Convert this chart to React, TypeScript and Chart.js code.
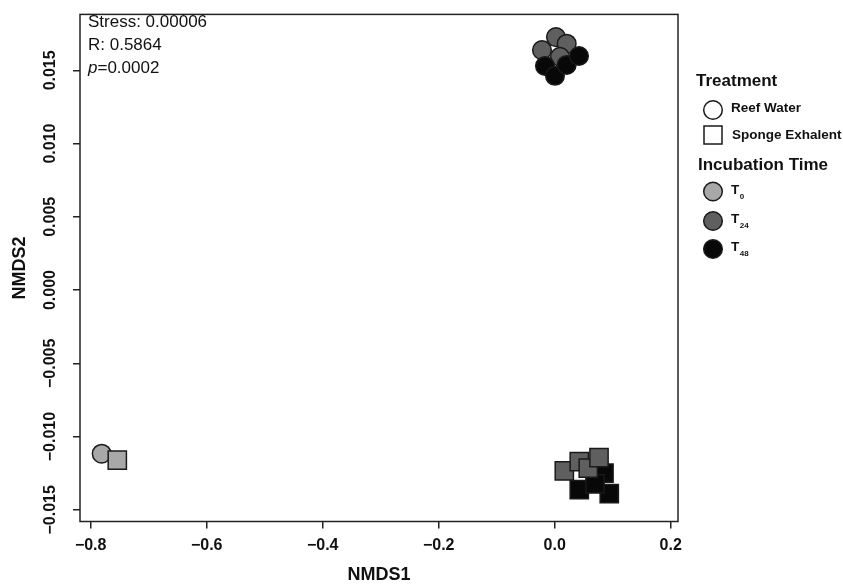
import React, { useEffect, useRef } from "react";
import { Chart, registerables } from "chart.js";

Chart.register(...registerables);

// ---- data ----
const t0ReefX = [-0.781];
const t0ReefY = [-0.01117];
const t0SpongeX = [-0.7541];
const t0SpongeY = [-0.01161];

const t24ReefX = [0.0022, 0.0207, -0.0219, 0.0091];
const t24ReefY = [0.01727, 0.01682, 0.01638, 0.01593];
const t48ReefX = [-0.0167, 0.0005, 0.0207, 0.0419];
const t48ReefY = [0.0153, 0.01463, 0.01537, 0.01598];

const t24SpongeX = [0.0166, 0.0424, 0.0579, 0.0764];
const t24SpongeY = [-0.01234, -0.01171, -0.01215, -0.01144];
const t48SpongeX = [0.0424, 0.085, 0.0941, 0.0695];
const t48SpongeY = [-0.01363, -0.01249, -0.0139, -0.01323];

const xTicks = [-0.8, -0.6, -0.4, -0.2, 0.0, 0.2];
const xTickLabels = ["\u22120.8", "\u22120.6", "\u22120.4", "\u22120.2", "0.0", "0.2"];
const yTicks = [-0.015, -0.01, -0.005, 0.0, 0.005, 0.01, 0.015];
const yTickLabels = ["\u22120.015", "\u22120.010", "\u22120.005", "0.000", "0.005", "0.010", "0.015"];

const statLines = ["Stress: 0.00006", "R: 0.5864", "=0.0002"];
const treatmentLabels = ["Reef Water", "Sponge Exhalent"];
const timeSubs = ["0", "24", "48"];

const C_T0 = "#a8a8a8";
const C_T24 = "#5f5f5f";
const C_T48 = "#080808";
const EDGE = "#1a1a1a";
const FONT = "'Liberation Sans', Arial, Helvetica, sans-serif";

const pts = (xs: number[], ys: number[]) => xs.map((x, i) => ({ x, y: ys[i] }));

export default function App() {
  const ref = useRef<HTMLCanvasElement | null>(null);

  useEffect(() => {
    if (!ref.current) return;

    const decor = {
      id: "decor",
      afterDraw(chart: any) {
        const ctx = chart.ctx as CanvasRenderingContext2D;
        const a = chart.chartArea;
        const xs = chart.scales.x;
        const ys = chart.scales.y;
        ctx.save();
        // frame
        ctx.strokeStyle = "#222";
        ctx.lineWidth = 1.5;
        ctx.strokeRect(a.left, a.top, a.right - a.left, a.bottom - a.top);

        ctx.fillStyle = "#111";
        // x tick labels
        ctx.font = `bold 16px ${FONT}`;
        ctx.textAlign = "center";
        ctx.textBaseline = "middle";
        xTicks.forEach((v, i) => {
          ctx.fillText(xTickLabels[i], xs.getPixelForValue(v), 546);
        });
        // y tick labels (rotated)
        yTicks.forEach((v, i) => {
          const py = ys.getPixelForValue(v);
          ctx.save();
          ctx.translate(51, py);
          ctx.rotate(-Math.PI / 2);
          ctx.fillText(yTickLabels[i], 0, 0);
          ctx.restore();
        });
        // axis titles
        ctx.font = `bold 18px ${FONT}`;
        ctx.fillText("NMDS1", (a.left + a.right) / 2, 575);
        ctx.save();
        ctx.translate(20, (a.top + a.bottom) / 2);
        ctx.rotate(-Math.PI / 2);
        ctx.fillText("NMDS2", 0, 0);
        ctx.restore();

        // stats text
        ctx.textAlign = "left";
        ctx.font = `17px ${FONT}`;
        ctx.fillText(statLines[0], 88, 22);
        ctx.fillText(statLines[1], 88, 45);
        ctx.font = `italic 17px ${FONT}`;
        ctx.fillText("p", 88, 68);
        const pw = ctx.measureText("p").width;
        ctx.font = `17px ${FONT}`;
        ctx.fillText(statLines[2], 88 + pw, 68);

        // legend
        ctx.font = `bold 17px ${FONT}`;
        ctx.fillText("Treatment", 696, 81);
        ctx.fillText("Incubation Time", 698, 165);

        ctx.lineWidth = 1.5;
        ctx.strokeStyle = EDGE;
        // open circle
        ctx.beginPath();
        ctx.arc(713, 110, 9.3, 0, Math.PI * 2);
        ctx.fillStyle = "#fff";
        ctx.fill();
        ctx.stroke();
        // open square
        ctx.fillRect(704, 126, 18, 18);
        ctx.strokeRect(704, 126, 18, 18);

        ctx.fillStyle = "#111";
        ctx.font = `bold 13.5px ${FONT}`;
        ctx.fillText(treatmentLabels[0], 731, 108);
        ctx.fillText(treatmentLabels[1], 732, 135);

        const tcols = [C_T0, C_T24, C_T48];
        const tys = [191.5, 221, 249];
        tcols.forEach((c, i) => {
          ctx.beginPath();
          ctx.arc(713, tys[i], 9.3, 0, Math.PI * 2);
          ctx.fillStyle = c;
          ctx.fill();
          ctx.stroke();
          ctx.fillStyle = "#111";
          ctx.font = `bold 13.5px ${FONT}`;
          ctx.fillText("T", 731, tys[i] - 1.5);
          const tw = ctx.measureText("T").width;
          ctx.font = `bold 8px ${FONT}`;
          ctx.fillText(timeSubs[i], 731 + tw + 0.5, tys[i] + 5);
        });
        ctx.restore();
      },
    };

    const base = { borderColor: EDGE, borderWidth: 1.5 };
    const chart = new Chart(ref.current, {
      type: "scatter",
      data: {
        datasets: [
          { ...base, label: "T0 reef", data: pts(t0ReefX, t0ReefY), backgroundColor: C_T0, pointStyle: "circle", pointRadius: 9.3, order: 3 },
          { ...base, label: "T0 sponge", data: pts(t0SpongeX, t0SpongeY), backgroundColor: C_T0, pointStyle: "rect", pointRadius: 12.9, order: 2 },
          { ...base, label: "T24 reef", data: pts(t24ReefX, t24ReefY), backgroundColor: C_T24, pointStyle: "circle", pointRadius: 9.3, order: 5 },
          { ...base, label: "T48 reef", data: pts(t48ReefX, t48ReefY), backgroundColor: C_T48, pointStyle: "circle", pointRadius: 9.3, order: 4 },
          { ...base, label: "T48 sponge", data: pts(t48SpongeX, t48SpongeY), backgroundColor: C_T48, pointStyle: "rect", pointRadius: 12.9, order: 7 },
          { ...base, label: "T24 sponge", data: pts(t24SpongeX, t24SpongeY), backgroundColor: C_T24, pointStyle: "rect", pointRadius: 12.9, order: 6 },
        ],
      },
      options: {
        responsive: false,
        animation: false,
        events: [],
        layout: { padding: { left: 0, top: 7, right: 165, bottom: 0 } },
        plugins: { legend: { display: false }, tooltip: { enabled: false } },
        scales: {
          x: {
            type: "linear",
            min: -0.8184,
            max: 0.2126,
            afterBuildTicks: (s: any) => { s.ticks = xTicks.map((v) => ({ value: v })); },
            afterFit: (s: any) => { s.height = 65.5; },
            ticks: { display: false },
            grid: { drawOnChartArea: false, drawTicks: true, tickLength: 7, color: "#222", lineWidth: 1.5 },
            border: { display: false },
          },
          y: {
            type: "linear",
            min: -0.0158,
            max: 0.01882,
            afterBuildTicks: (s: any) => { s.ticks = yTicks.map((v) => ({ value: v })); },
            afterFit: (s: any) => { s.width = 80; },
            ticks: { display: false },
            grid: { drawOnChartArea: false, drawTicks: true, tickLength: 7, color: "#222", lineWidth: 1.5 },
            border: { display: false },
          },
        },
      },
      plugins: [decor],
    } as any);
    return () => chart.destroy();
  }, []);

  return (
    <div style={{ position: "absolute", left: 0, top: 0, width: 843, height: 587, background: "#fff" }}>
      <canvas ref={ref} width={843} height={587} />
    </div>
  );
}
